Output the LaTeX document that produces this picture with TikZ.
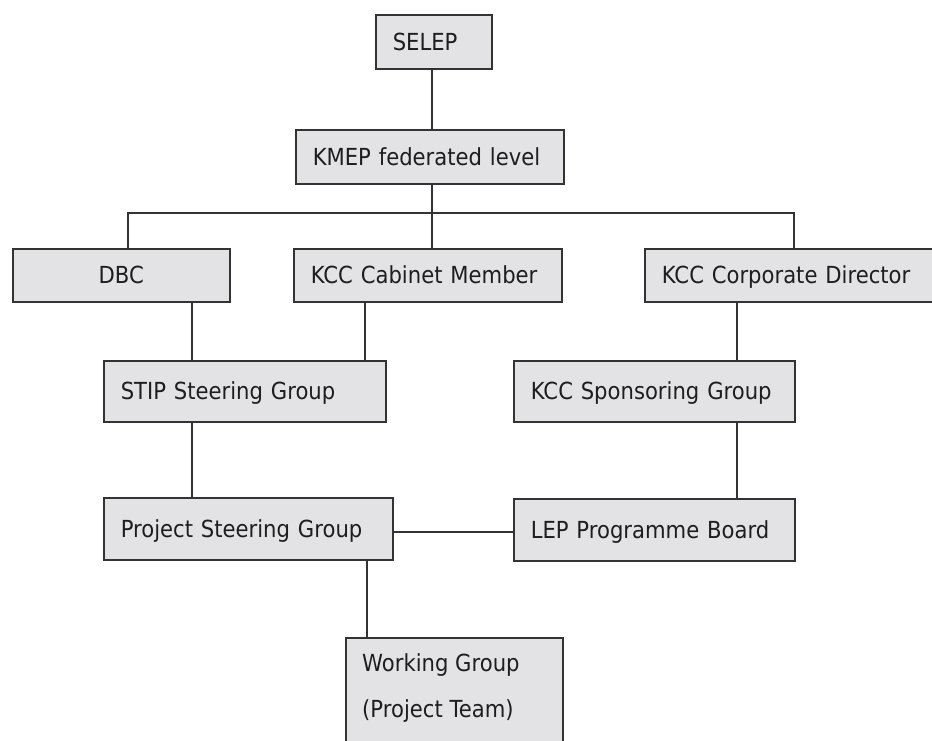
\documentclass[tikz,border=0pt]{standalone}
\usepackage{fontspec}
\setmainfont{DejaVu Sans}[FakeStretch=0.9]
\definecolor{boxfill}{HTML}{E3E3E5}
\definecolor{edge}{HTML}{333333}
\definecolor{ink}{HTML}{1E1E1E}
\tikzset{
  box/.style={draw=edge, line width=1.5pt, fill=boxfill, anchor=north west, inner ysep=0pt,
     inner xsep=17pt, text height=17pt, text depth=0pt, text=ink, align=left,
     font=\fontsize{23.5}{28}\selectfont},
  lbl/.style={text=ink, inner sep=0pt, font=\fontsize{23.5}{28}\selectfont},
  link/.style={draw=edge, line width=1.5pt}
}
\begin{document}
\begin{tikzpicture}[x=1pt,y=-1pt]
\useasboundingbox (0,0) rectangle (932,740);
\clip (0,0) rectangle (932,740);
% boxes
\node[box, minimum width=116pt, text width=82pt, minimum height=54pt] (selep) at (375,14) {SELEP};
\node[box, minimum width=268pt, text width=234pt, minimum height=54pt] (kmep) at (295,129) {KMEP federated level};
\node[box, minimum width=217pt, text width=183pt, minimum height=53pt, align=center] (dbc) at (12,248) {DBC};
\node[box, minimum width=268pt, text width=234pt, minimum height=53pt] (cab) at (293,248) {KCC Cabinet Member};
\node[box, minimum width=300pt, text width=266pt, minimum height=53pt] (cdir) at (644,248) {KCC Corporate Director};
\node[box, minimum width=282pt, text width=248pt, minimum height=61pt] (stip) at (103,360) {STIP Steering Group};
\node[box, minimum width=281pt, text width=247pt, minimum height=61pt] (spon) at (513,360) {KCC Sponsoring Group};
\node[box, minimum width=289pt, text width=255pt, minimum height=62pt] (psg) at (103,497) {Project Steering Group};
\node[box, minimum width=281pt, text width=247pt, minimum height=62pt] (lep) at (513,498) {LEP Programme Board};
\node[box, minimum width=217pt, text width=183pt, minimum height=130pt] (wg) at (345,637) {};
\node[lbl, anchor=base west] (wg1) at (362,671) {Working Group};
\node[lbl, anchor=base west] (wg2) at (362,717) {(Project Team)};
% connector coordinates
\coordinate (j) at (432,213);
\coordinate (busL) at (128,213);
\coordinate (busR) at (794,213);
\coordinate (c1) at (192,0);
\coordinate (c2) at (365,0);
\coordinate (c3) at (737,0);
\coordinate (c4) at (367,0);
\coordinate (h) at (0,532);
% connectors
\draw[link] (selep.south -| j) -- (kmep.north -| j);
\draw[link] (kmep.south -| j) -- (cab.north -| j);
\draw[link] (dbc.north -| busL) |- (busR) -- (cdir.north -| busR);
\draw[link] (dbc.south -| c1) -- (stip.north -| c1);
\draw[link] (cab.south -| c2) -- (stip.north -| c2);
\draw[link] (stip.south -| c1) -- (psg.north -| c1);
\draw[link] (cdir.south -| c3) -- (spon.north -| c3);
\draw[link] (spon.south -| c3) -- (lep.north -| c3);
\draw[link] (psg.east |- h) -- (lep.west |- h);
\draw[link] (psg.south -| c4) -- (wg.north -| c4);
\end{tikzpicture}
\end{document}
